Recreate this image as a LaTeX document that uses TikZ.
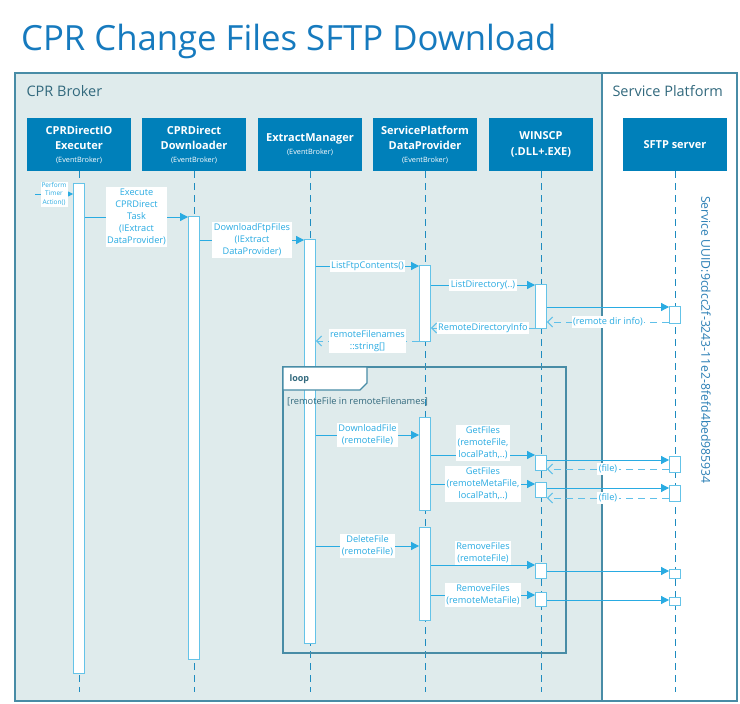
\documentclass[tikz,border=0pt]{standalone}
\usepackage{fontspec}
\setmainfont{Open Sans}
\usetikzlibrary{arrows.meta, positioning}

\definecolor{titleblue}{RGB}{22,122,190}
\definecolor{hdrblue}{RGB}{0,128,186}
\definecolor{frameline}{RGB}{72,140,166}
\definecolor{brokerbg}{RGB}{223,235,236}
\definecolor{msgblue}{RGB}{41,171,226}
\definecolor{lifeblue}{RGB}{30,140,192}
\definecolor{barline}{RGB}{100,195,232}
\definecolor{regiontext}{RGB}{50,105,125}
\definecolor{uuidblue}{RGB}{40,125,180}

\tikzset{
  head/.style={fill=hdrblue, text=white, minimum width=104pt, minimum height=53pt,
    align=center, inner sep=1pt, font=\fontsize{11}{15.5}\selectfont\bfseries},
  life/.style={lifeblue, line width=1pt, dash pattern=on 7pt off 5pt},
  actbar/.style={draw=barline, fill=white, line width=0.9pt, minimum width=11pt,
    inner sep=0pt, anchor=north},
  msg/.style={msgblue, line width=1pt, -{Triangle[length=8pt,width=8pt]}},
  ret/.style={msgblue!75, line width=1pt, dash pattern=on 7pt off 5pt,
    -{Straight Barb[length=5pt,width=10pt]}},
  lbl/.style={fill=white, text=msgblue, align=center, inner sep=1.5pt,
    font=\fontsize{9.2}{12}\selectfont},
  region/.style={text=regiontext, anchor=base west, font=\fontsize{14.5}{16}\selectfont},
}
\newcommand{\evb}{\\[-3pt]{\fontsize{7.3}{9}\selectfont\mdseries (EventBroker)}}

\begin{document}
\begin{tikzpicture}[x=1pt, y=-1pt]
    \useasboundingbox (0,0) rectangle (740,704);

    % title and the two regions
    \node[anchor=base west, text=titleblue, font=\fontsize{34.7}{38}\selectfont, inner sep=0pt]
        (title) at (21,50) {CPR Change Files SFTP Download};
    \fill[brokerbg] (15,73) rectangle (602,701);
    \draw[frameline, line width=1.3pt] (15,73) rectangle (737,701);
    \draw[frameline, line width=1.3pt] (602,73) -- (602,701);
    \node[region] (broker) at (23,96) {CPR Broker};
    \node[region] (platform) at (609,96) {Service Platform};

    % participants
    \node[head] (exec)   at (79,144.5)  {CPRDirectIO\\Executer\evb};
    \node[head] (down)   at (194,144.5) {CPRDirect\\Downloader\evb};
    \node[head] (extr)   at (310,144.5) {ExtractManager\evb};
    \node[head] (spdp)   at (425,144.5) {ServicePlatform\\DataProvider\evb};
    \node[head] (winscp) at (541,144.5) {WINSCP\\(.DLL+.EXE)};
    \node[head] (sftp)   at (675,144.5) {SFTP server};

    \foreach \n in {exec,down,extr,spdp,winscp,sftp}
        \draw[life] (\n.south) -- (\n.south |- 0,692);

    \node[rotate=-90, text=uuidblue, font=\fontsize{12.2}{14}\selectfont] (uuid)
        at (706,340) {Service UUID:9cdcc2f-3243-11e2-8fefd4bed985934};

    % activations
    \node[actbar, minimum height=490pt] (bExec)  at (79,183)  {};
    \node[actbar, minimum height=443pt] (bDown)  at (194,216) {};
    \node[actbar, minimum height=404pt] (bExtr)  at (310,239) {};
    \node[actbar, minimum height=76pt]  (bSp)    at (425,265) {};
    \node[actbar, minimum height=93pt]  (bSpA)   at (425,417) {};
    \node[actbar, minimum height=93pt]  (bSpB)   at (425,527) {};
    \node[actbar, minimum height=44pt]  (bWs)    at (541,284) {};
    \node[actbar, minimum height=15pt]  (bWsA)   at (541,455) {};
    \node[actbar, minimum height=15pt]  (bWsB)   at (541,482) {};
    \node[actbar, minimum height=15pt]  (bWsC)   at (541,563) {};
    \node[actbar, minimum height=14pt]  (bWsD)   at (541,592) {};
    \node[actbar, minimum height=17pt]  (bSftp)  at (675,306) {};
    \node[actbar, minimum height=16pt]  (bSftpA) at (675,456) {};
    \node[actbar, minimum height=16pt]  (bSftpB) at (675,485) {};
    \node[actbar, minimum height=9pt]   (bSftpC) at (675,569) {};
    \node[actbar, minimum height=8pt]   (bSftpD) at (675,597) {};

    % loop frame
    \draw[frameline, line width=1.1pt] (283,367) rectangle (566,653);
    \draw[frameline, line width=1.1pt, fill=white]
        (283,367) -- (367,367) -- (367,383) -- (360,390) -- (283,390) -- cycle;
    \node[anchor=west, text=regiontext, font=\fontsize{9}{10}\selectfont\bfseries] (loop)
        at (286,379) {loop};
    \node[anchor=west, text=regiontext, font=\fontsize{9.3}{10}\selectfont, inner sep=1pt] (guard)
        at (286,402) {[remoteFile in remoteFilenames]};

    % messages
    \coordinate (timer) at (35,194);
    \draw[msg] (timer) -- node[lbl, font=\fontsize{6.5}{8.5}\selectfont, inner sep=1pt]
        {Perform\\Timer\\Action()} (bExec.west |- timer);
    \draw[msg] (bExec.east |- 0,217) -- node[lbl]
        {Execute\\CPRDirect\\Task\\(IExtract\\DataProvider)} (bDown.west |- 0,217);
    \draw[msg] (bDown.east |- 0,240) -- node[lbl]
        {DownloadFtpFiles\\(IExtract\\DataProvider)} (bExtr.west |- 0,240);
    \draw[msg] (bExtr.east |- 0,266) -- node[lbl] {ListFtpContents()} (bSp.west |- 0,266);
    \draw[msg] (bSp.east |- 0,285) -- node[lbl] {ListDirectory(..)} (bWs.west |- 0,285);
    \draw[msg] (bWs.east |- 0,307) -- (bSftp.west |- 0,307);
    \draw[ret] (bSftp.west |- 0,322) -- node[lbl] {(remote dir info)} (bWs.east |- 0,322);
    \draw[ret] (bWs.west |- 0,328) -- node[lbl] {RemoteDirectoryInfo} (bSp.east |- 0,328);
    \draw[ret] (bSp.west |- 0,341) -- node[lbl] {remoteFilenames\\::string[]} (bExtr.east |- 0,341);

    % inside the loop
    \draw[msg] (bExtr.east |- 0,435) -- node[lbl] {DownloadFile\\(remoteFile)} (bSpA.west |- 0,435);
    \draw[msg] (bSpA.east |- 0,455) -- node[lbl, yshift=12pt]
        {GetFiles\\(remoteFile,\\localPath,..)} (bWsA.west |- 0,455);
    \draw[msg] (bWsA.east |- 0,460) -- (bSftpA.west |- 0,460);
    \draw[ret] (bSftpA.west |- 0,469) -- node[lbl] {(file)} (bWsA.east |- 0,469);
    \draw[msg] (bSpA.east |- 0,484) -- node[lbl]
        {GetFiles\\(remoteMetaFile,\\localPath,..)} (bWsB.west |- 0,484);
    \draw[msg] (bWsB.east |- 0,488) -- (bSftpB.west |- 0,488);
    \draw[ret] (bSftpB.west |- 0,498) -- node[lbl] {(file)} (bWsB.east |- 0,498);
    \draw[msg] (bExtr.east |- 0,546) -- node[lbl] {DeleteFile\\(remoteFile)} (bSpB.west |- 0,546);
    \draw[msg] (bSpB.east |- 0,565) -- node[lbl, yshift=12pt]
        {RemoveFiles\\(remoteFile)} (bWsC.west |- 0,565);
    \draw[msg] (bWsC.east |- 0,571) -- (bSftpC.west |- 0,571);
    \draw[msg] (bSpB.east |- 0,595) -- node[lbl] {RemoveFiles\\(remoteMetaFile)} (bWsD.west |- 0,595);
    \draw[msg] (bWsD.east |- 0,600) -- (bSftpD.west |- 0,600);
\end{tikzpicture}
\end{document}
